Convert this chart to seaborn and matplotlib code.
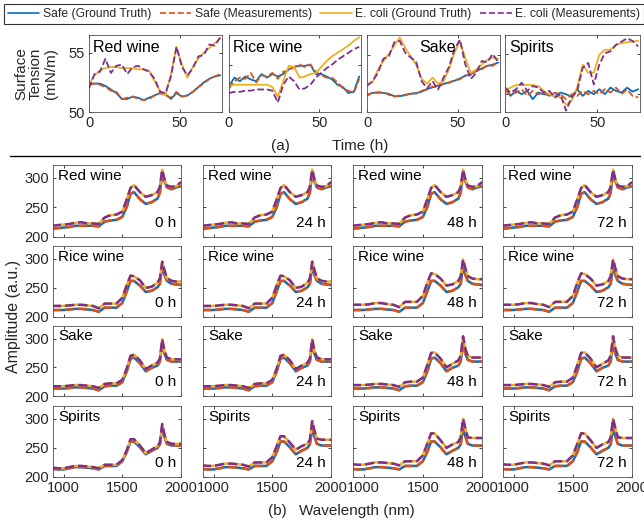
import matplotlib
matplotlib.use("Agg")
import matplotlib.pyplot as plt
import seaborn as sns
from matplotlib.lines import Line2D

# ---------- data: surface tension over time (a) ----------
hours = [0, 3, 6, 9, 12, 15, 18, 21, 24, 27, 30, 33, 36, 39, 42, 45, 48, 51, 54, 57, 60, 63, 66, 69, 72]

red_safe_gt = [52.4, 52.4, 52.4, 52.2, 51.9, 51.6, 51.1, 51.1, 51.3, 51.2, 51.0, 51.2, 51.4,
               51.6, 51.5, 51.1, 51.6, 51.3, 51.4, 51.7, 52.1, 52.5, 52.8, 53.0, 53.1]
red_safe_ms = [52.3, 52.4, 52.3, 52.1, 51.8, 51.7, 51.1, 51.2, 51.3, 51.1, 51.0, 51.1, 51.4,
               51.6, 51.4, 51.2, 51.7, 51.3, 51.4, 51.7, 52.1, 52.4, 52.8, 53.0, 53.2]
red_eco_gt = [52.3, 53.1, 53.5, 53.7, 53.8, 53.8, 53.7, 53.7, 53.7, 53.6, 53.6, 53.5, 52.6,
              51.8, 51.4, 53.2, 55.5, 54.0, 52.9, 53.8, 54.5, 55.0, 55.4, 55.8, 56.2]
red_eco_ms = [52.0, 53.2, 53.4, 54.5, 53.3, 53.9, 54.0, 53.2, 53.8, 53.9, 53.6, 53.4, 52.8,
              51.7, 51.6, 53.0, 55.5, 53.8, 53.1, 53.7, 54.7, 54.8, 55.7, 55.6, 56.3]

rice_safe_gt = [52.2, 52.9, 52.6, 53.0, 52.75, 52.6, 53.2, 52.9, 53.2, 53.0, 53.2, 53.6, 53.8,
                53.9, 53.9, 54.0, 53.2, 53.2, 53.0, 52.75, 52.3, 52.1, 51.6, 51.7, 53.0]
rice_safe_ms = [52.0, 52.6, 52.9, 52.8, 53.3, 52.5, 53.1, 53.0, 53.3, 52.8, 53.4, 53.5, 53.8,
                54.0, 53.8, 54.0, 53.4, 53.1, 52.9, 52.9, 52.5, 52.0, 51.8, 51.6, 52.8]
rice_eco_gt = [52.2, 52.3, 52.3, 52.3, 52.3, 52.3, 52.3, 52.3, 52.1, 51.3, 52.6, 53.9, 53.8,
               52.9, 53.0, 53.2, 53.3, 53.8, 54.3, 54.7, 55.0, 55.3, 55.6, 56.0, 56.3]
rice_eco_ms = [51.6, 51.7, 51.7, 51.8, 51.8, 51.9, 51.9, 51.9, 51.8, 50.8, 52.3, 53.0, 52.6,
               51.9, 52.0, 52.3, 52.9, 53.3, 53.7, 54.0, 54.4, 54.7, 55.0, 55.3, 55.5]

sake_safe_gt = [51.45, 51.6, 51.67, 51.6, 51.53, 51.33, 51.33, 51.45, 51.53, 51.6, 51.72, 51.94,
                52.08, 52.22, 52.36, 52.5, 52.64, 52.83, 53.06, 53.19, 53.47, 53.67, 53.89, 54.0, 54.17]
sake_safe_ms = [51.35, 51.65, 51.6, 51.7, 51.45, 51.3, 51.4, 51.4, 51.6, 51.55, 51.8, 51.9,
                52.15, 52.1, 52.4, 52.45, 52.7, 52.75, 53.1, 53.1, 53.5, 53.6, 53.95, 53.9, 54.2]
sake_eco_gt = [52.36, 52.5, 53.6, 54.3, 54.9, 55.6, 56.3, 55.4, 54.7, 54.0, 52.8, 52.4, 52.9,
               52.4, 52.6, 53.6, 55.0, 56.0, 54.5, 53.3, 53.6, 54.0, 54.4, 54.6, 54.5]
sake_eco_ms = [52.2, 52.6, 53.3, 54.5, 54.7, 55.9, 56.0, 55.0, 54.6, 54.2, 52.6, 52.0, 52.6,
               51.9, 52.9, 53.8, 55.3, 56.1, 54.0, 52.8, 53.3, 54.3, 54.2, 54.9, 54.2]

spirits_safe_gt = [52.06, 51.36, 51.78, 51.5, 51.78, 51.08, 51.64, 51.5, 51.44, 51.36, 51.64, 51.5,
                   51.28, 51.92, 51.36, 51.78, 51.5, 51.92, 51.5, 52.06, 51.78, 51.64, 52.06, 51.72, 51.92]
spirits_safe_ms = [51.78, 51.5, 51.64, 51.92, 51.36, 51.78, 51.5, 51.64, 51.36, 51.64, 51.5, 51.08,
                   51.5, 51.36, 51.78, 51.5, 51.78, 51.5, 51.92, 51.64, 52.06, 51.5, 51.92, 51.36, 51.22]
spirits_eco_gt = [51.78, 52.06, 52.28, 52.28, 52.28, 52.28, 52.19, 51.78, 51.5, 51.36, 51.22, 50.61,
                  50.94, 52.06, 54.0, 53.31, 53.31, 54.83, 55.25, 55.25, 55.67, 55.81, 55.89, 55.94, 56.0]
spirits_eco_ms = [52.06, 51.64, 51.92, 52.47, 51.78, 52.19, 52.06, 51.64, 51.78, 51.22, 51.5, 50.11,
                  51.22, 51.78, 53.72, 54.14, 52.33, 54.0, 54.97, 55.11, 55.67, 55.94, 56.22, 56.0, 55.53]

# ---------- data: spectra (b) ----------
wavelength = [900, 950, 1000, 1050, 1100, 1150, 1200, 1250, 1300, 1350, 1400, 1450, 1500, 1540,
              1570, 1600, 1650, 1700, 1750, 1800, 1820, 1840, 1860, 1880, 1920, 1960, 2000]

red_safe = [214, 215, 216, 217, 219, 219, 219, 219, 218, 226, 228, 229, 234, 252,
            273, 276, 264, 256, 259, 265, 275, 309, 294, 284, 281, 284, 286]
red_eco = [219, 220, 221, 222, 224, 225, 223, 223, 222, 233, 237, 238, 243, 265,
           283, 288, 276, 268, 271, 276, 285, 314, 297, 287, 285, 286, 293]

rice_safe = [212, 212, 212, 213, 214, 214, 213, 212, 209, 216, 216, 216, 224, 245,
             262, 262, 254, 243, 245, 251, 257, 287, 272, 262, 257, 256, 255]
rice_eco_early = [219, 219, 219, 220, 221, 221, 220, 219, 215, 223, 223, 223, 233, 256,
                  271, 270, 263, 250, 252, 259, 266, 295, 280, 267, 262, 261, 261]
rice_eco_late = [221, 221, 221, 222, 224, 224, 222, 221, 217, 226, 226, 226, 236, 260,
                 275, 274, 266, 254, 256, 262, 270, 299, 283, 270, 266, 265, 265]

sake_safe = [213, 213, 213, 214, 215, 215, 214, 213, 210, 217, 218, 218, 224, 244,
             265, 267, 257, 243, 249, 253, 260, 292, 273, 263, 260, 260, 260]
sake_eco_early = [217, 217, 217, 218, 219, 219, 218, 217, 214, 221, 222, 222, 228, 249,
                  270, 272, 262, 247, 253, 258, 265, 299, 278, 267, 264, 264, 264]
sake_eco_late = [219, 219, 219, 220, 221, 221, 220, 219, 216, 224, 225, 225, 232, 255,
                 275, 276, 265, 250, 256, 262, 270, 304, 282, 270, 267, 267, 267]

spirits_safe = [214, 213, 213, 215, 217, 217, 216, 215, 213, 219, 219, 219, 227, 244,
                261, 261, 251, 239, 245, 250, 256, 284, 269, 257, 254, 254, 254]
spirits_eco_0h = [216, 215, 215, 217, 219, 219, 218, 217, 215, 221, 221, 221, 229, 247,
                  265, 265, 254, 241, 247, 253, 259, 291, 272, 260, 257, 257, 257]
spirits_eco_24h = [220, 219, 219, 221, 223, 223, 222, 221, 218, 225, 225, 225, 234, 254,
                   270, 270, 259, 247, 253, 257, 264, 296, 279, 266, 264, 264, 264]
spirits_eco_late = [222, 221, 221, 223, 225, 225, 224, 223, 220, 227, 227, 227, 237, 258,
                    275, 275, 263, 250, 256, 260, 268, 300, 283, 268, 267, 267, 267]

hour_labels = ["0 h", "24 h", "48 h", "72 h"]
materials = ["Red wine", "Rice wine", "Sake", "Spirits"]

# ---------- style ----------
sns.set_theme(style="ticks")
plt.rcParams['font.family'] = ['Liberation Sans', 'DejaVu Sans']
plt.rcParams['axes.edgecolor'] = '#4d4d4d'
plt.rcParams['axes.linewidth'] = 0.6

C_SAFE = '#0072BD'
C_SAFE_M = '#D95319'
C_ECO = '#EDB120'
C_ECO_M = '#7E2F8E'

W, H = 644, 523
fig = plt.figure(figsize=(W / 100, H / 100), dpi=100)


def ax_px(l, t, r, b):
    return fig.add_axes([l / W, 1 - b / H, (r - l) / W, (b - t) / H])


def style_ax(ax, fs):
    ax.tick_params(direction='in', top=True, right=True, length=2.5, width=0.6,
                   colors='#262626', labelsize=fs, pad=3)
    for s in ax.spines.values():
        s.set_visible(True)
        s.set_color('#4d4d4d')
        s.set_linewidth(0.6)


def draw4(ax, x, sg, sm, eg, em, lw):
    sns.lineplot(x=x, y=sg, ax=ax, color=C_SAFE, lw=lw)
    sns.lineplot(x=x, y=sm, ax=ax, color=C_SAFE_M, lw=lw, linestyle='--')
    sns.lineplot(x=x, y=eg, ax=ax, color=C_ECO, lw=lw)
    sns.lineplot(x=x, y=em, ax=ax, color=C_ECO_M, lw=lw, linestyle='--')
    ax.set_xlabel('')
    ax.set_ylabel('')


# ---------- (a) ----------
top_cols = [(89, 222), (229, 361), (367, 500), (505, 640)]
top_series = [
    (red_safe_gt, red_safe_ms, red_eco_gt, red_eco_ms),
    (rice_safe_gt, rice_safe_ms, rice_eco_gt, rice_eco_ms),
    (sake_safe_gt, sake_safe_ms, sake_eco_gt, sake_eco_ms),
    (spirits_safe_gt, spirits_safe_ms, spirits_eco_gt, spirits_eco_ms),
]
top_yticks = [[50, 55], [54.0], [54.8], [51.5, 54.9]]
top_text_x = [0.03, 0.03, 0.39, 0.03]

for i, (l, r) in enumerate(top_cols):
    ax = ax_px(l, 35, r, 112)
    draw4(ax, hours, *top_series[i], lw=1.3)
    ax.set_xlim(0, 73)
    ax.set_ylim(50, 56.5)
    ax.set_xticks([0, 50])
    ax.set_yticks(top_yticks[i])
    style_ax(ax, 10.5)
    if i > 0:
        ax.set_yticklabels([])
    ax.text(top_text_x[i], 0.93, materials[i], transform=ax.transAxes,
            ha='left', va='top', fontsize=11.5, color='black')

fig.text(36 / W, 1 - 74 / H, "Surface\nTension\n(mN/m)", rotation=90,
         ha='center', va='center', fontsize=11, linespacing=1.1)
fig.text(280 / W, 1 - 146 / H, "(a)", ha='center', va='center', fontsize=11)
fig.text(360 / W, 1 - 146 / H, "Time (h)", ha='center', va='center', fontsize=11)

fig.add_artist(Line2D([10 / W, 640 / W], [1 - 156 / H, 1 - 156 / H], color='black', lw=1.0))

# ---------- (b) ----------
spec_cols = [(53, 181), (203, 331), (353, 482), (503, 632)]
spec_rows = [(165, 237), (246, 317), (326, 396), (406, 477)]
safe_by_mat = [red_safe, rice_safe, sake_safe, spirits_safe]
eco_by_panel = [
    [red_eco, red_eco, red_eco, red_eco],
    [rice_eco_early, rice_eco_early, rice_eco_late, rice_eco_late],
    [sake_eco_early, sake_eco_early, sake_eco_late, sake_eco_late],
    [spirits_eco_0h, spirits_eco_24h, spirits_eco_late, spirits_eco_late],
]

for ri, (t, b) in enumerate(spec_rows):
    for ci, (l, r) in enumerate(spec_cols):
        ax = ax_px(l, t, r, b)
        safe = safe_by_mat[ri]
        eco = eco_by_panel[ri][ci]
        draw4(ax, wavelength, safe, safe, eco, eco, lw=1.8)
        ax.set_xlim(910, 2000)
        ax.set_ylim(200, 322)
        ax.set_xticks([1000, 1500, 2000])
        ax.set_yticks([200, 250, 300])
        style_ax(ax, 10.5)
        if ci > 0:
            ax.set_yticklabels([])
        if ri < 3:
            ax.set_xticklabels([])
        ax.text(0.04, 0.95, materials[ri], transform=ax.transAxes,
                ha='left', va='top', fontsize=11, color='black')
        ax.text(0.96, 0.1, hour_labels[ci], transform=ax.transAxes,
                ha='right', va='bottom', fontsize=11, color='black')

fig.text(14 / W, 1 - 316 / H, "Amplitude (a.u.)", rotation=90,
         ha='center', va='center', fontsize=11.5)
fig.text(277 / W, 1 - 511 / H, "(b)", ha='center', va='center', fontsize=11)
fig.text(357 / W, 1 - 511 / H, "Wavelength (nm)", ha='center', va='center', fontsize=11)

# ---------- legend ----------
handles = [
    Line2D([], [], color=C_SAFE, lw=1.2),
    Line2D([], [], color=C_SAFE_M, lw=1.2, linestyle='--'),
    Line2D([], [], color=C_ECO, lw=1.2),
    Line2D([], [], color=C_ECO_M, lw=1.2, linestyle='--'),
]
labels = ["Safe (Ground Truth)", "Safe (Measurements)",
          "E. coli (Ground Truth)", "E. coli (Measurements)"]
leg = fig.legend(handles, labels, loc='center', bbox_to_anchor=(324 / W, 1 - 14 / H),
                 ncol=4, fontsize=8.7, frameon=True, fancybox=False, edgecolor='black',
                 borderpad=0.35, handlelength=2.6, handletextpad=0.3, columnspacing=0.7)
leg.get_frame().set_linewidth(0.8)

fig.savefig("out.png", dpi=100)
